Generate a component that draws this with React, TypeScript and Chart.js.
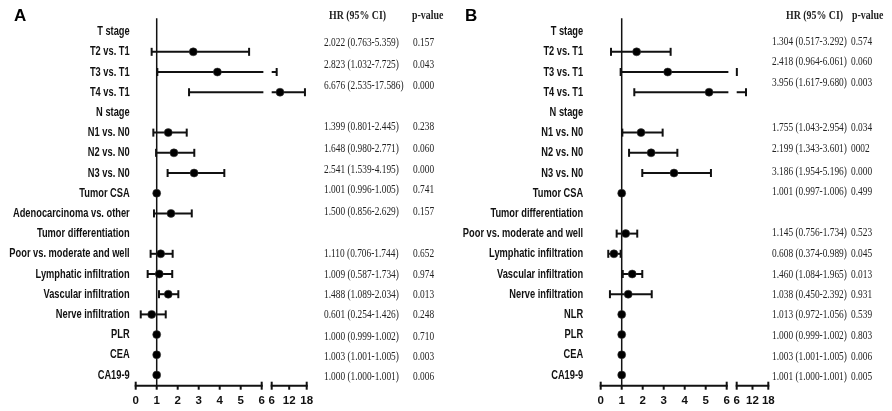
import React, { useEffect, useRef } from "react";
import { Chart, registerables } from "chart.js";

Chart.register(...registerables);

// ---------------- data ----------------
const rowLabelsA = [
  "T stage", "T2 vs. T1", "T3 vs. T1", "T4 vs. T1", "N stage", "N1 vs. N0", "N2 vs. N0", "N3 vs. N0",
  "Tumor CSA", "Adenocarcinoma vs. other", "Tumor differentiation", "Poor vs. moderate and well",
  "Lymphatic infiltration", "Vascular infiltration", "Nerve infiltration", "PLR", "CEA", "CA19-9",
];
// point / CI positions as drawn in the figure
const hrA = [null, 2.74, 3.89, 8.85, null, 1.55, 1.82, 2.78, 1.0, 1.68, null, 1.19, 1.12, 1.55, 0.76, 1.0, 1.0, 1.0];
const lowerA = [null, 0.76, 1.03, 2.54, null, 0.84, 0.97, 1.52, 1.0, 0.87, null, 0.71, 0.57, 1.11, 0.24, 1.0, 1.0, 1.0];
const upperA = [null, 5.4, 7.71, 17.4, null, 2.43, 2.79, 4.22, 1.0, 2.67, null, 1.76, 1.74, 2.03, 1.43, 1.0, 1.0, 1.0];
const ciTextA = [
  "", "2.022 (0.763-5.359)", "2.823 (1.032-7.725)", "6.676 (2.535-17.586)", "", "1.399 (0.801-2.445)",
  "1.648 (0.980-2.771)", "2.541 (1.539-4.195)", "1.001 (0.996-1.005)", "1.500 (0.856-2.629)", "",
  "1.110 (0.706-1.744)", "1.009 (0.587-1.734)", "1.488 (1.089-2.034)", "0.601 (0.254-1.426)",
  "1.000 (0.999-1.002)", "1.003 (1.001-1.005)", "1.000 (1.000-1.001)",
];
const pTextA = ["", "0.157", "0.043", "0.000", "", "0.238", "0.060", "0.000", "0.741", "0.157", "", "0.652", "0.974", "0.013", "0.248", "0.710", "0.003", "0.006"];

const rowLabelsB = [
  "T stage", "T2 vs. T1", "T3 vs. T1", "T4 vs. T1", "N stage", "N1 vs. N0", "N2 vs. N0", "N3 vs. N0",
  "Tumor CSA", "Tumor differentiation", "Poor vs. moderate and well", "Lymphatic infiltration",
  "Vascular infiltration", "Nerve infiltration", "NLR", "PLR", "CEA", "CA19-9",
];
const hrB = [null, 1.71, 3.19, 5.16, null, 1.92, 2.4, 3.49, 1.0, null, 1.19, 0.63, 1.5, 1.31, 1.0, 1.0, 1.0, 1.0];
const lowerB = [null, 0.49, 0.95, 1.6, null, 1.03, 1.35, 1.98, 1.0, null, 0.76, 0.36, 1.05, 0.44, 1.0, 1.0, 1.0, 1.0];
const upperB = [null, 3.33, 6.06, 9.53, null, 2.95, 3.65, 5.25, 1.0, null, 1.74, 0.95, 1.98, 2.43, 1.0, 1.0, 1.0, 1.0];
const ciTextB = [
  "", "1.304 (0.517-3.292)", "2.418 (0.964-6.061)", "3.956 (1.617-9.680)", "", "1.755 (1.043-2.954)",
  "2.199 (1.343-3.601)", "3.186 (1.954-5.196)", "1.001 (0.997-1.006)", "", "1.145 (0.756-1.734)",
  "0.608 (0.374-0.989)", "1.460 (1.084-1.965)", "1.038 (0.450-2.392)", "1.013 (0.972-1.056)",
  "1.000 (0.999-1.002)", "1.003 (1.001-1.005)", "1.001 (1.000-1.001)",
];
const pTextB = ["", "0.574", "0.060", "0.003", "", "0.034", "0002", "0.000", "0.499", "", "0.523", "0.045", "0.013", "0.931", "0.539", "0.803", "0.006", "0.005"];

const xTickLabels = ["0", "1", "2", "3", "4", "5", "6", "6", "12", "18"];
const headerCI = "HR (95% CI)";
const headerP = "p-value";

// ---------------- layout (pixels) ----------------
const tableYA = [0, 43, 64.5, 86, 0, 127, 149, 170, 190, 211.7, 0, 254, 275, 295, 315, 336.7, 357, 377];
const tableYB = [0, 42, 62, 83, 0, 128, 149, 172, 192, 0, 233, 254, 275, 295, 315, 336, 356.7, 377];

type PanelCfg = {
  letter: string;
  letterX: number;
  labels: string[];
  hr: (number | null)[];
  lower: (number | null)[];
  upper: (number | null)[];
  ciText: string[];
  pText: string[];
  tableY: number[];
  ciX: number;
  pX: number;
  hdrCiX: number;
  hdrPX: number;
  labelPad: number;
  yAxisWidth: number;
  rightPad: number;
  gap: number;
  seg: number;
};

const W = 446;
const H = 411;

function Panel({ cfg, left }: { cfg: PanelCfg; left: number }) {
  const ref = useRef<HTMLCanvasElement>(null);
  useEffect(() => {
    const canvas = ref.current;
    if (!canvas) return;
    const segStart = 6 + cfg.gap;
    const xMax = segStart + cfg.seg;
    const breakAt = 6.08;
    const T = (v: number) => (v <= 6 ? v : segStart + ((v - 6) / 12) * cfg.seg);
    const pts: { x: number; y: number }[] = [];
    cfg.hr.forEach((h, i) => {
      if (h != null) pts.push({ x: T(h), y: i });
    });
    const ink = "#111";

    const drawSquashed = (ctx: CanvasRenderingContext2D, text: string, x: number, y: number, sx: number) => {
      ctx.save();
      ctx.translate(x, y);
      ctx.scale(sx, 1);
      ctx.fillText(text, 0, 0);
      ctx.restore();
    };

    const forest = {
      id: "forest",
      beforeDatasetsDraw(chart: any) {
        const { ctx, chartArea } = chart;
        const xs = chart.scales.x;
        const ys = chart.scales.y;
        ctx.save();
        ctx.strokeStyle = ink;
        ctx.lineCap = "butt";
        // reference line at HR = 1
        ctx.lineWidth = 1.5;
        const x1 = xs.getPixelForValue(1);
        ctx.beginPath();
        ctx.moveTo(x1, chartArea.top);
        ctx.lineTo(x1, chartArea.bottom);
        ctx.stroke();
        // confidence intervals
        ctx.lineWidth = 2;
        cfg.lower.forEach((lo, i) => {
          const hi = cfg.upper[i];
          if (lo == null || hi == null || hi - lo < 0.05) return;
          const py = ys.getPixelForValue(i);
          const line = (a: number, b: number) => {
            ctx.beginPath();
            ctx.moveTo(a, py);
            ctx.lineTo(b, py);
            ctx.stroke();
          };
          const cap = (px: number) => {
            ctx.beginPath();
            ctx.moveTo(px, py - 4);
            ctx.lineTo(px, py + 4);
            ctx.stroke();
          };
          const plo = xs.getPixelForValue(T(lo));
          if (hi <= 6) {
            const phi = xs.getPixelForValue(hi);
            line(plo, phi);
            cap(plo);
            cap(phi);
          } else {
            line(plo, xs.getPixelForValue(breakAt));
            cap(plo);
            const ps = xs.getPixelForValue(segStart);
            const phi = xs.getPixelForValue(T(hi));
            if (phi - ps > 0.5) line(ps, phi);
            cap(phi);
          }
        });
        ctx.restore();
      },
      afterDraw(chart: any) {
        const { ctx, chartArea } = chart;
        const xs = chart.scales.x;
        const ys = chart.scales.y;
        ctx.save();
        ctx.strokeStyle = ink;
        ctx.fillStyle = ink;
        // broken x axis
        const yb = chartArea.bottom;
        ctx.lineWidth = 2;
        const hline = (a: number, b: number) => {
          ctx.beginPath();
          ctx.moveTo(xs.getPixelForValue(a) - 1, yb);
          ctx.lineTo(xs.getPixelForValue(b) + 1, yb);
          ctx.stroke();
        };
        hline(0, 6);
        hline(segStart, xMax);
        const tick = (v: number, up: number, down: number) => {
          const px = xs.getPixelForValue(v);
          ctx.beginPath();
          ctx.moveTo(px, yb - up);
          ctx.lineTo(px, yb + down);
          ctx.stroke();
        };
        [0, 6, segStart, xMax].forEach((v) => tick(v, 4, 4));
        [1, 2, 3, 4, 5, segStart + cfg.seg / 2].forEach((v) => tick(v, 0, 4));

        // row labels
        ctx.font = "bold 13px 'Liberation Sans', Arial, sans-serif";
        ctx.textAlign = "right";
        ctx.textBaseline = "middle";
        cfg.labels.forEach((lab, i) => {
          drawSquashed(ctx, lab, chartArea.left - cfg.labelPad, ys.getPixelForValue(i), 0.715);
        });

        // table
        ctx.textAlign = "left";
        ctx.fillStyle = "#222";
        ctx.font = "bold 13px 'Liberation Serif', 'Times New Roman', serif";
        drawSquashed(ctx, headerCI, cfg.hdrCiX, 16, 0.76);
        drawSquashed(ctx, headerP, cfg.hdrPX, 16, 0.76);
        ctx.font = "13px 'Liberation Serif', 'Times New Roman', serif";
        cfg.ciText.forEach((t, i) => {
          if (!t) return;
          drawSquashed(ctx, t, cfg.ciX, cfg.tableY[i], 0.72);
          drawSquashed(ctx, cfg.pText[i], cfg.pX, cfg.tableY[i], 0.72);
        });

        // panel letter
        ctx.fillStyle = "#000";
        ctx.font = "bold 17px 'Liberation Sans', Arial, sans-serif";
        ctx.textBaseline = "alphabetic";
        ctx.fillText(cfg.letter, cfg.letterX, 21);
        ctx.restore();
      },
    };

    const chart = new Chart(canvas, {
      type: "scatter",
      data: {
        datasets: [
          {
            data: pts,
            pointRadius: 4,
            pointHoverRadius: 4,
            backgroundColor: "#000",
            borderColor: "rgba(60,60,60,0.7)",
            borderWidth: 0.8,
          },
        ],
      },
      options: {
        responsive: false,
        animation: false,
        devicePixelRatio: 1,
        events: [],
        layout: { padding: { top: 18.3, right: cfg.rightPad, left: 0, bottom: 0 } },
        plugins: { legend: { display: false }, tooltip: { enabled: false } },
        scales: {
          x: {
            type: "linear",
            min: 0,
            max: xMax,
            grid: { display: false, drawTicks: false },
            border: { display: false },
            afterBuildTicks: (axis: any) => {
              axis.ticks = [0, 1, 2, 3, 4, 5, 6, segStart, segStart + cfg.seg / 2, xMax].map((v) => ({ value: v }));
            },
            afterFit: (scale: any) => {
              scale.height = H - 385.7;
            },
            ticks: {
              autoSkip: false,
              maxRotation: 0,
              minRotation: 0,
              padding: 8,
              color: "#111",
              font: { family: "'Liberation Sans', Arial, sans-serif", size: 11.5, weight: "bold" },
              callback: (_v: any, i: number) => xTickLabels[i],
            },
          },
          y: {
            type: "linear",
            reverse: true,
            min: -0.66,
            max: 17.53,
            grid: { display: false, drawTicks: false },
            border: { display: false },
            ticks: { display: false },
            afterFit: (scale: any) => {
              scale.width = cfg.yAxisWidth;
            },
          },
        },
      },
      plugins: [forest],
    } as any);
    return () => chart.destroy();
  }, [cfg]);
  return (
    <canvas
      ref={ref}
      width={W}
      height={H}
      style={{ position: "absolute", left, top: 0, width: W, height: H, display: "block" }}
    />
  );
}

const cfgA: PanelCfg = {
  letter: "A",
  letterX: 14,
  labels: rowLabelsA,
  hr: hrA,
  lower: lowerA,
  upper: upperA,
  ciText: ciTextA,
  pText: pTextA,
  tableY: tableYA,
  ciX: 324,
  pX: 413,
  hdrCiX: 329,
  hdrPX: 412,
  labelPad: 6,
  yAxisWidth: 135.7,
  rightPad: W - 306.7,
  gap: 0.476,
  seg: 1.667,
};

const cfgB: PanelCfg = {
  letter: "B",
  letterX: 19,
  labels: rowLabelsB,
  hr: hrB,
  lower: lowerB,
  upper: upperB,
  ciText: ciTextB,
  pText: pTextB,
  tableY: tableYB,
  ciX: 326,
  pX: 405,
  hdrCiX: 340,
  hdrPX: 406,
  labelPad: 17.5,
  yAxisWidth: 154.7,
  rightPad: W - 322.3,
  gap: 0.476,
  seg: 1.505,
};

export default function App() {
  return (
    <div style={{ position: "absolute", left: 0, top: 0, width: 892, height: 411, background: "#fff", overflow: "hidden" }}>
      <Panel cfg={cfgA} left={0} />
      <Panel cfg={cfgB} left={446} />
    </div>
  );
}
